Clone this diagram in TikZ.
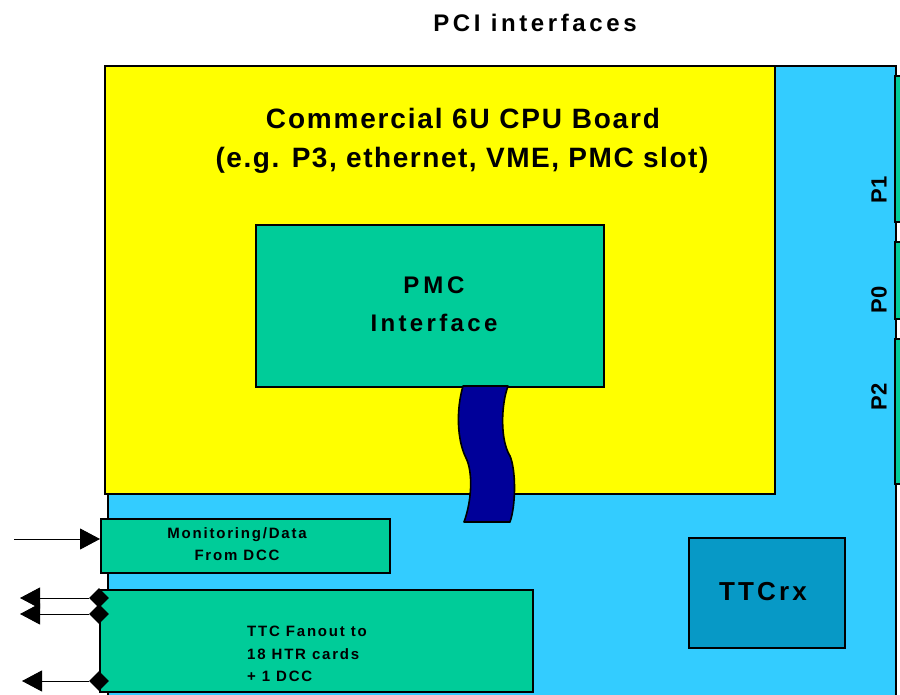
\documentclass[tikz,border=0pt]{standalone}
\usepackage{fontspec}
\setmainfont{Liberation Sans}
\usetikzlibrary{arrows.meta,shapes.geometric}
\definecolor{boardblue}{HTML}{33CCFF}
\definecolor{cpuyellow}{HTML}{FFFF00}
\definecolor{chipgreen}{HTML}{00CC99}
\definecolor{cableblue}{HTML}{000099}
\definecolor{rxblue}{HTML}{0799C6}
% bold tracked sans: size (pt), letter spacing (percent of size)
\newcommand{\trackfont}[2]{\fontsize{#1}{#1}\selectfont\bfseries\addfontfeatures{LetterSpace=#2}}
\begin{document}
\begin{tikzpicture}[x=1pt,y=-1pt,
  blk/.style={draw=black, line width=1.6pt, rectangle, inner sep=0pt, anchor=north west},
  txt/.style={inner sep=0pt, text=black},
  lead/.style={line width=1pt, draw=black},
  dia/.style={diamond, fill=black, draw=none, inner sep=0pt, minimum width=20pt, minimum height=20pt},
  tip/.style={-{Triangle[length=20pt,width=21pt]}}]
\useasboundingbox (0,0) rectangle (900,695);
\clip (0,0) rectangle (900,695);

% title
\node[txt, anchor=base] (title) at (535,32) {\trackfont{24}{15}PCI interfaces};

% carrier board and its backplane connectors
\node[blk, fill=boardblue, minimum width=788pt, minimum height=660pt] (board) at (107,65) {};
\node[blk, fill=chipgreen, minimum width=20pt, minimum height=146pt] (p1) at (894,75) {};
\node[blk, fill=chipgreen, minimum width=20pt, minimum height=77pt] (p0) at (894,241) {};
\node[blk, fill=chipgreen, minimum width=20pt, minimum height=145pt] (p2) at (894,338) {};
\node[txt, rotate=90] (p1lbl) at (879,190) {\trackfont{22}{0}P1};
\node[txt, rotate=90] (p0lbl) at (879,300) {\trackfont{22}{0}P0};
\node[txt, rotate=90] (p2lbl) at (879,397) {\trackfont{22}{0}P2};

% CPU board
\node[blk, fill=cpuyellow, minimum width=670pt, minimum height=428pt] (cpu) at (104,65) {};
\node[txt, anchor=base] (cpuA) at (463,129) {\trackfont{28}{6.5}Commercial 6U CPU Board};
\node[txt, anchor=base] (cpuB) at (462,168) {\trackfont{28}{5.5}(e.g. P3, ethernet, VME, PMC slot)};

% PMC interface
\node[blk, fill=chipgreen, minimum width=348pt, minimum height=162pt] (pmc) at (255,224) {};
\node[txt, anchor=base] (pmcA) at (434,294) {\trackfont{24}{16}PMC};
\node[txt, anchor=base] (pmcB) at (434,331) {\trackfont{24}{14}Interface};

% flat cable
\draw[fill=cableblue, draw=black, line width=1.6pt, line join=round]
  (463,386) -- (508,386)
  .. controls (501,405) and (500,440) .. (510,456)
  .. controls (516,470) and (516,505) .. (510,522)
  -- (464,522)
  .. controls (472,500) and (473,472) .. (466,458)
  .. controls (457,440) and (456,410) .. (463,386) -- cycle;

% TTCrx
\node[blk, fill=rxblue, minimum width=156pt, minimum height=110pt] (ttcrx) at (688,537) {};
\node[txt, anchor=base] (ttcrxlbl) at (763,600) {\trackfont{26}{12}TTCrx};

% monitoring input
\node[blk, fill=chipgreen, minimum width=289pt, minimum height=54pt] (mon) at (100,518) {};
\node[txt, anchor=base] (monA) at (237,538) {\trackfont{15}{12}Monitoring/Data};
\node[txt, anchor=base] (monB) at (237,560) {\trackfont{15}{12}From DCC};
\coordinate (monin) at (14,539);
\draw[lead, tip] (monin) -- (monin -| mon.west);

% TTC fanout
\node[blk, fill=chipgreen, minimum width=433pt, minimum height=102pt] (fan) at (99,589) {};
\node[txt, anchor=base west] (fanA) at (247,636) {\trackfont{15}{12}TTC Fanout to};
\node[txt, anchor=base west] (fanB) at (247,659) {\trackfont{15}{12}18 HTR cards};
\node[txt, anchor=base west] (fanC) at (247,681) {\trackfont{15}{12}+ 1 DCC};

\node[dia] (d1) at (99,598) {};
\node[dia] (d2) at (99,614) {};
\node[dia] (d3) at (99,681) {};
\coordinate (o1) at (20,598);
\coordinate (o2) at (20,614);
\coordinate (o3) at (22,681);
\draw[lead, tip] (d1) -- (o1);
\draw[lead, tip] (d2) -- (o2);
\draw[lead, tip] (d3) -- (o3);
\end{tikzpicture}
\end{document}
